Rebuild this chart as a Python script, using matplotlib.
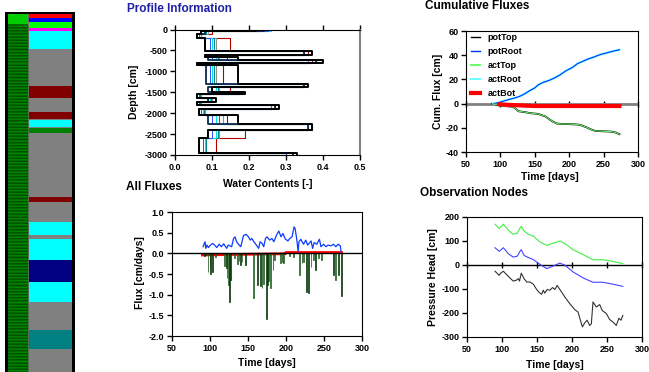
import numpy as np
import matplotlib.pyplot as plt
from matplotlib.lines import Line2D

plt.rcParams['font.family'] = ['Liberation Sans', 'DejaVu Sans']
plt.rcParams['font.weight'] = 'bold'
plt.rcParams['axes.unicode_minus'] = False

# ---- soil profile strip (layer bands, depth in cm) ----
strip_top = [0, 38, 67, 117, 146, 293, 602, 702, 819, 882, 890, 945, 953, 995,
             1538, 1580, 1747, 1856, 1889, 2065, 2249, 2416, 2650, 2809]
strip_bot = strip_top[1:] + [3000]
strip_colors = ['#ff0000', '#0000ff', '#00ff00', '#ff00ff', '#00ffff', '#808080',
                '#800000', '#808080', '#800000', '#808080', '#00ffff', '#808080',
                '#008000', '#808080', '#800000', '#808080', '#00ffff', '#808080',
                '#00ffff', '#000080', '#00ffff', '#808080', '#008080', '#808080']

# ---- water content profiles (one value per layer) ----
layer_depth = [0, -40, -100, -200, -520, -610, -650, -720, -790, -860, -1300, -1370,
               -1490, -1530, -1640, -1740, -1800, -1900, -2050, -2250, -2400, -2600,
               -2960, -3000]
wc_black = [0.22, 0.07, 0.06, 0.08, 0.37, 0.08, 0.17, 0.40, 0.06, 0.17, 0.36, 0.10,
            0.19, 0.06, 0.11, 0.06, 0.28, 0.065, 0.17, 0.37, 0.09, 0.065, 0.33]
wc_navy = [0.24, 0.08, 0.06, 0.08, 0.35, 0.08, 0.09, 0.38, 0.06, 0.085, 0.35, 0.09,
           0.18, 0.06, 0.09, 0.06, 0.27, 0.065, 0.09, 0.36, 0.09, 0.065, 0.32]
wc_gray = [0.25, 0.09, 0.07, 0.11, 0.35, 0.09, 0.12, 0.36, 0.07, 0.11, 0.35, 0.12,
           0.17, 0.07, 0.10, 0.07, 0.26, 0.08, 0.13, 0.36, 0.12, 0.085, 0.30]
wc_teal = [0.25, 0.085, 0.065, 0.105, 0.35, 0.09, 0.115, 0.36, 0.068, 0.105, 0.35, 0.115,
           0.17, 0.068, 0.097, 0.068, 0.26, 0.078, 0.12, 0.36, 0.115, 0.083, 0.30]
wc_cyan = [0.26, 0.08, 0.065, 0.10, 0.35, 0.085, 0.11, 0.36, 0.065, 0.10, 0.35, 0.11,
           0.17, 0.065, 0.095, 0.065, 0.26, 0.075, 0.11, 0.36, 0.11, 0.08, 0.30]
wc_blue = [0.25, 0.08, 0.065, 0.095, 0.35, 0.085, 0.10, 0.36, 0.065, 0.095, 0.35, 0.10,
           0.17, 0.065, 0.09, 0.065, 0.26, 0.07, 0.10, 0.36, 0.10, 0.075, 0.30]
wc_red = [0.23, 0.10, 0.07, 0.15, 0.36, 0.10, 0.14, 0.37, 0.07, 0.13, 0.35, 0.15,
          0.18, 0.07, 0.10, 0.07, 0.27, 0.08, 0.14, 0.37, 0.19, 0.11, 0.30]

# ---- cumulative fluxes ----
cum_root_days = [90, 95, 100, 110, 120, 128, 135, 142, 150, 155, 162, 170, 178, 186,
                 195, 205, 212, 220, 228, 236, 245, 255, 265, 273]
cum_root = [0, 0.5, 1.3, 3, 4.5, 6, 8, 10.5, 13, 15.5, 17.5, 19, 21, 23.5, 27, 30, 33,
            35, 37, 38.5, 40.5, 42, 43.5, 44.5]
cum_top_days = [88, 96, 100, 110, 118, 122, 126, 135, 145, 155, 160, 165, 170, 175, 182,
                190, 200, 210, 216, 220, 226, 230, 235, 238, 245, 255, 262, 268, 273]
cum_top = [0, -1, -2, -2.2, -2.6, -4, -6.3, -7, -8, -8.5, -9.6, -10.5, -12.5, -14.5,
           -16.5, -16.8, -17, -17.2, -17.6, -18.5, -19.8, -21, -22, -22.6, -22.8, -23,
           -23.2, -24, -25.3]
cum_bot_days = [98, 110, 130, 150, 200, 273]
cum_bot = [-0.5, -1.0, -1.5, -2.0, -2.0, -2.0]

# ---- all fluxes ----
root_days = [91, 92, 93.5, 94.5, 96, 98, 100, 103.5, 106.5, 109, 112, 115, 118, 122, 124,
             128.5, 131, 133, 135, 137.5, 140.5, 144, 147.5, 150.5, 153, 155, 157, 161,
             164, 166, 168.5, 170.7, 173, 175, 178.5, 181.5, 184, 187.5, 190.5, 193.5,
             196, 199, 202.5, 205, 208, 210.5, 212, 214, 216, 217, 219.5, 223, 226,
             228.5, 233, 235, 237, 240.5, 244, 246, 249.5, 252.5, 255.5, 259, 262.5,
             265.5, 268.5, 271.5, 272.5]
root_flux = [0.16, 0.22, 0.28, 0.12, 0.20, 0.14, 0.19, 0.24, 0.19, 0.14, 0.22, 0.16,
             0.23, 0.12, 0.20, 0.16, 0.36, 0.40, 0.28, 0.22, 0.16, 0.43, 0.46, 0.40,
             0.32, 0.36, 0.30, 0.20, 0.12, 0.28, 0.24, 0.16, 0.36, 0.40, 0.32, 0.36,
             0.28, 0.44, 0.54, 0.40, 0.48, 0.35, 0.30, 0.36, 0.40, 0.64, 0.60, 0.36,
             0.04, 0.28, 0.34, 0.22, 0.32, 0.20, 0.30, 0.12, 0.26, 0.22, 0.34, 0.16,
             0.22, 0.16, 0.20, 0.18, 0.22, 0.16, 0.22, 0.18, 0.04]
top_dark_days = [92.5, 94, 101, 103, 121.5, 125.5, 127, 140, 146.5, 162, 166, 168.5, 174,
                 176, 183, 221, 226.5, 229.5, 239, 262.5, 269.5, 273.5]
top_dark = [-0.06, -0.05, -0.50, -0.45, -0.36, -1.18, -0.65, -0.29, -0.28, -0.77, -0.79,
            -0.84, -1.58, -0.77, -0.40, -0.24, -0.93, -0.95, -0.40, -0.53, -0.53, -1.04]
top_light_days = [97.5, 100, 107, 119.5, 122.5, 124.5, 132, 136, 138, 142, 157.5, 170.5,
                  177, 180, 184.5, 193, 195, 197, 205, 210, 217.5, 223, 233, 236, 243,
                  246.5, 265]
top_light = [-0.44, -0.32, -0.10, -0.30, -0.60, -0.77, -0.12, -0.25, -0.18, -0.20, -1.08,
             -0.73, -0.67, -0.85, -0.16, -0.24, -0.20, -0.24, -0.07, -0.10, -0.53, -0.20,
             -0.32, -0.16, -0.12, -0.15, -0.65]
bot_days = [90, 120, 160, 199, 200, 273]
bot_flux = [-0.04, -0.03, -0.02, -0.01, 0.02, 0.02]

# ---- observation nodes ----
obs_days = [90, 96, 102, 109, 116, 122, 125, 127.5, 131.5, 137.7, 145, 154, 164, 171,
            182.6, 190, 201.6, 216, 230, 244, 258.4, 272.6]
obs_green = [170, 152, 170, 145, 128, 133, 151, 161, 142, 128, 120, 96, 82, 89, 100, 89,
             64, 43, 22, 22, 15, 6]
obs_blue = [72, 57, 72, 47, 33, 37, 54, 64, 40, 31, 22, 3, -15, -7, 8, -1, -29, -54,
            -72, -72, -80, -89]
obs3_days = [90, 96, 98, 102, 106.6, 111.4, 116, 120, 123.5, 125, 127.5, 131.5, 135.4,
             140, 144.8, 149.5, 154, 156.6, 159, 161, 164.6, 168.4, 172.2, 175.5, 178.8,
             181.7, 185, 189.7, 196.8, 204, 208.6, 212, 214.8, 218, 221.5, 225.3, 227.6,
             230, 234.8, 239.5, 243.3, 249, 253.7, 258.4, 263.2, 267, 270, 272.6]
obs_black = [-26, -43, -34, -26, -40, -54, -67, -64, -57, -67, -34, -57, -71, -71, -80,
             -102, -117, -122, -105, -117, -102, -105, -94, -102, -85, -98, -112, -133,
             -161, -186, -196, -230, -258, -242, -230, -252, -245, -154, -175, -165,
             -190, -202, -227, -237, -252, -222, -230, -210]

W, H = 649, 372
fig = plt.figure(figsize=(W / 100, H / 100), dpi=100)


def box(l, t, r, b):
    return [l / W, 1 - b / H, (r - l) / W, (b - t) / H]


def ftext(x, y, s, **kw):
    fig.text(x / W, 1 - y / H, s, **kw)


TICK = 6.5
LAB = 7.5
TIT = 8.5

# ---------------- strip ----------------
ax0 = fig.add_axes(box(5, 12, 75, 372))
ax0.set_facecolor('black')
ax0.set_xlim(0, 1)
ax0.set_ylim(3000, -15)
ax0.set_xticks([])
ax0.set_yticks([])
for s in ax0.spines.values():
    s.set_visible(False)
ax0.bar(0.65, np.subtract(strip_bot, strip_top), bottom=strip_top, width=0.614,
        color=strip_colors, linewidth=0)
ax0.bar(0.187, 3000, bottom=0, width=0.287, color='#006a00', linewidth=0)
ax0.bar(0.187, 84, bottom=0, width=0.287, color='#00cc00', linewidth=0)
ax0.hlines(np.arange(100, 3000, 26), 0.043, 0.33, color='#008a00', lw=0.6)
ax0.hlines(np.arange(113, 3000, 26), 0.043, 0.33, color='#004800', lw=0.5)
ax0.bar(0.337, 3000, bottom=0, width=0.013, color='#707070', linewidth=0)

# ---------------- profile information ----------------
ax1 = fig.add_axes(box(175, 29.5, 360, 155))
ys = np.column_stack([layer_depth[:-1], layer_depth[1:]]).ravel()
for wc, col, lw in [(wc_red, '#b00000', 0.8), (wc_gray, '#909090', 0.8),
                    (wc_teal, '#008080', 0.7), (wc_cyan, '#00e5e5', 0.8),
                    (wc_blue, '#3050ff', 0.7), (wc_navy, '#0b2a4a', 1.3),
                    (wc_black, 'black', 1.4)]:
    ax1.plot(np.repeat(wc, 2), ys, color=col, lw=lw)
ax1.set_xlim(0, 0.5)
ax1.set_ylim(-3000, 0)
ax1.set_xticks(np.arange(0, 0.51, 0.1))
ax1.set_xticklabels(['0.0', '0.1', '0.2', '0.3', '0.4', '0.5'])
ax1.set_yticks(np.arange(-3000, 1, 500))
ax1.tick_params(axis='x', top=True, direction='out', length=3.5, width=1,
                labelsize=TICK, pad=2)
ax1.tick_params(axis='y', direction='out', length=3.5, width=1, labelsize=TICK, pad=2)
ax1.spines['right'].set_color('#808080')
ax1.spines['right'].set_linewidth(1.5)
ftext(127, 9, 'Profile Information', color='#1f1fa8', fontsize=TIT, va='center')
ftext(268, 184, 'Water Contents [-]', fontsize=LAB, ha='center', va='center')
ftext(134, 92, 'Depth [cm]', fontsize=LAB, ha='center', va='center', rotation=90)

# ---------------- cumulative fluxes ----------------
ax2 = fig.add_axes(box(466, 31, 638, 152))
ax2.axhline(0, color='#808080', lw=2, zorder=1)
ax2.plot(cum_top_days, cum_top, color='black', lw=1.3)
ax2.plot(cum_root_days, cum_root, color='#66ffff', lw=1.6)
ax2.plot(cum_root_days, cum_root, color='#0033ff', lw=0.8)
ax2.plot(cum_top_days, cum_top, color='#66ff66', lw=0.7)
ax2.plot(cum_bot_days, cum_bot, color='red', lw=3)
ax2.set_xlim(50, 300)
ax2.set_ylim(-40, 60)
ax2.set_xticks(np.arange(50, 301, 50))
ax2.set_yticks(np.arange(-40, 61, 20))
ax2.tick_params(direction='out', length=3.5, width=1, labelsize=TICK, pad=2)
sec2 = ax2.secondary_xaxis(0.4)
sec2.set_xticks(np.arange(50, 301, 50))
sec2.tick_params(direction='inout', length=5, width=1, labelbottom=False, labeltop=False)
for s in sec2.spines.values():
    s.set_visible(False)
leg_names = ['potTop', 'potRoot', 'actTop', 'actRoot', 'actBot']
leg_colors = ['black', '#0033ff', '#66ff66', '#66ffff', 'red']
leg_widths = [1.0, 1.0, 1.4, 1.4, 3.0]
handles = [Line2D([], [], color=c, lw=w) for c, w in zip(leg_colors, leg_widths)]
ax2.legend(handles, leg_names, loc='upper left', bbox_to_anchor=(0.0, 1.02),
           frameon=False, fontsize=6.5, handlelength=1.1, handletextpad=0.8,
           labelspacing=0.55, borderaxespad=0.1)
ftext(425, 6, 'Cumulative Fluxes', fontsize=TIT, va='center')
ftext(550, 177, 'Time [days]', fontsize=LAB, ha='center', va='center')
ftext(438, 91, 'Cum. Flux [cm]', fontsize=LAB, ha='center', va='center', rotation=90)

# ---------------- all fluxes ----------------
ax3 = fig.add_axes(box(172, 212, 362, 336))
ax3.plot(bot_days, bot_flux, color='red', lw=2, zorder=2)
ax3.bar(top_light_days, top_light, width=1.0, color='#86d386', edgecolor='#104a10',
        linewidth=0.5, zorder=3)
ax3.bar(top_dark_days, top_dark, width=1.0, color='#0a3a0a', edgecolor='#0a3a0a',
        linewidth=0.5, zorder=3)
ax3.axhline(0, color='black', lw=1, zorder=4)
ax3.plot(root_days, root_flux, color='#0a3cff', lw=0.9, zorder=5)
ax3.set_xlim(50, 300)
ax3.set_ylim(-2, 1)
ax3.set_xticks(np.arange(50, 301, 50))
ax3.set_yticks(np.arange(-2, 1.01, 0.5))
ax3.set_yticklabels(['-2.0', '-1.5', '-1.0', '-0.5', '0.0', '0.5', '1.0'])
ax3.tick_params(direction='out', length=3.5, width=1, labelsize=TICK, pad=2)
ftext(126, 187, 'All Fluxes', fontsize=TIT, va='center')
ftext(267, 363, 'Time [days]', fontsize=LAB, ha='center', va='center')
ftext(140, 273, 'Flux [cm/days]', fontsize=LAB, ha='center', va='center', rotation=90)

# ---------------- observation nodes ----------------
ax4 = fig.add_axes(box(467, 217, 642, 337))
ax4.axhline(0, color='black', lw=1, zorder=1)
ax4.plot(obs_days, obs_green, color='#44ee44', lw=0.8)
ax4.plot(obs_days, obs_blue, color='#4444ff', lw=0.8)
ax4.plot(obs3_days, obs_black, color='#333333', lw=0.8)
ax4.set_xlim(50, 300)
ax4.set_ylim(-300, 200)
ax4.set_xticks(np.arange(50, 301, 50))
ax4.set_yticks(np.arange(-300, 201, 100))
ax4.tick_params(direction='out', length=3.5, width=1, labelsize=TICK, pad=2)
sec4 = ax4.secondary_xaxis(0.6)
sec4.set_xticks(np.arange(50, 301, 50))
sec4.tick_params(direction='inout', length=5, width=1, labelbottom=False, labeltop=False)
for s in sec4.spines.values():
    s.set_visible(False)
ftext(420, 193, 'Observation Nodes', fontsize=TIT, va='center')
ftext(555, 365, 'Time [days]', fontsize=LAB, ha='center', va='center')
ftext(433, 277, 'Pressure Head [cm]', fontsize=LAB, ha='center', va='center', rotation=90)

fig.savefig('out.png', dpi=100)
